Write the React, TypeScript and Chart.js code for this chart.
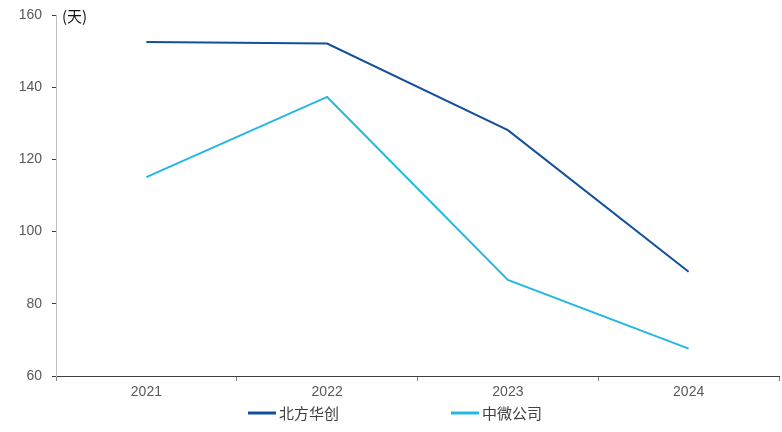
import React, { useEffect, useRef } from "react";
import { Chart, registerables } from "chart.js";

Chart.register(...registerables);

const categories = ["2021", "2022", "2023", "2024"];
const seriesNames = ["北方华创", "中微公司"];
const naura = [152.5, 152.1, 128.1, 88.9];
const amec = [115.1, 137.3, 86.6, 67.6];
const yTicks = [60, 80, 100, 120, 140, 160];
const unitLabel = "(天)";

const COLORS = ["#11509A", "#22B8E2"];
const FONT = "'Liberation Sans', Arial, sans-serif";
const CJK = "'Noto Sans CJK SC', sans-serif";

const overlayPlugin = {
  id: "overlay",
  afterDraw(chart: any) {
    const ctx = chart.ctx;
    const area = chart.chartArea;
    ctx.save();
    // unit label
    ctx.fillStyle = "#111111";
    ctx.font = `15px ${CJK}`;
    ctx.textBaseline = "middle";
    ctx.textAlign = "left";
    ctx.fillText(unitLabel, area.left + 6, area.top + 1);

    // legend
    const fontSize = 15;
    ctx.font = `${fontSize}px ${CJK}`;
    const boxW = 28;
    const gapText = 3;
    const itemGap = 112;
    const items = chart.data.datasets.map((d: any) => ({
      label: d.label,
      color: d.borderColor,
      w: boxW + gapText + ctx.measureText(d.label).width,
    }));
    const total = items.reduce((s: number, it: any) => s + it.w, 0) + itemGap * (items.length - 1);
    let x = (chart.width - total) / 2 + 4;
    const y = 413;
    items.forEach((it: any) => {
      ctx.strokeStyle = it.color;
      ctx.lineWidth = 3;
      ctx.beginPath();
      ctx.moveTo(x, y);
      ctx.lineTo(x + boxW, y);
      ctx.stroke();
      ctx.fillStyle = "#404040";
      ctx.fillText(it.label, x + boxW + gapText, y);
      x += it.w + itemGap;
    });
    ctx.restore();
  },
};

export default function App() {
  const ref = useRef<HTMLCanvasElement | null>(null);

  useEffect(() => {
    document.body.style.margin = "0";
    if (!ref.current) return;
    const chart = new Chart(ref.current, {
      type: "line",
      data: {
        labels: categories,
        datasets: [
          {
            label: seriesNames[0],
            data: naura,
            borderColor: COLORS[0],
            backgroundColor: COLORS[0],
            borderWidth: 2,
            pointRadius: 0,
            tension: 0,
          },
          {
            label: seriesNames[1],
            data: amec,
            borderColor: COLORS[1],
            backgroundColor: COLORS[1],
            borderWidth: 2,
            pointRadius: 0,
            tension: 0,
          },
        ],
      },
      options: {
        responsive: false,
        animation: false,
        layout: { padding: { top: 15, right: 3, left: 0, bottom: 0 } },
        plugins: {
          legend: { display: false },
          tooltip: { enabled: false },
        },
        scales: {
          x: {
            type: "category",
            offset: true,
            grid: {
              offset: true,
              drawOnChartArea: false,
              drawTicks: true,
              tickLength: 5,
              tickColor: "#7F7F7F",
            },
            border: { display: true, color: "#404040", width: 1 },
            ticks: {
              color: "#595959",
              font: { size: 14, family: FONT },
              padding: 3,
            },
            afterFit(scale: any) {
              scale.height = 56;
              scale.paddingLeft = 0;
              scale.paddingRight = 0;
            },
          },
          y: {
            min: 60,
            max: 160,
            afterBuildTicks(scale: any) {
              scale.ticks = yTicks.map((v) => ({ value: v }));
            },
            grid: {
              drawOnChartArea: false,
              drawTicks: true,
              tickLength: 4,
              tickColor: "#404040",
            },
            border: { display: true, color: "#BFBFBF", width: 1 },
            ticks: {
              color: "#595959",
              font: { size: 14, family: FONT },
              padding: 10,
            },
            afterFit(scale: any) {
              scale.width = 56;
              scale.paddingTop = 0;
              scale.paddingBottom = 0;
            },
          },
        },
      },
      plugins: [overlayPlugin],
    } as any);
    return () => chart.destroy();
  }, []);

  return (
    <div style={{ width: 782, height: 432 }}>
      <canvas ref={ref} width={782} height={432} style={{ width: 782, height: 432, display: "block" }} />
    </div>
  );
}
